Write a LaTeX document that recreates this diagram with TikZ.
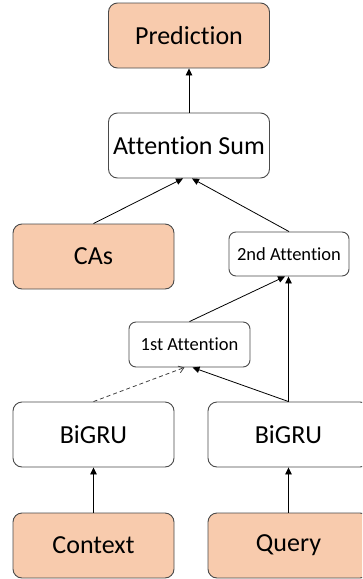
\documentclass[tikz,border=0pt]{standalone}
\usepackage{fontspec}
\setmainfont[Ligatures=NoCommon]{Carlito}
\usetikzlibrary{arrows.meta,calc}
\definecolor{peach}{HTML}{F8CBAD}
\definecolor{boxline}{HTML}{4A4A4A}
\tikzset{
  bigbox/.style={draw=boxline, line width=0.9pt, rounded corners=9pt,
    minimum width=161pt, minimum height=65pt, inner sep=0pt,
    font=\fontsize{26}{30}\selectfont},
  inbox/.style={bigbox, fill=peach},
  smallbox/.style={draw=boxline, line width=0.9pt, rounded corners=7pt,
    minimum width=120pt, minimum height=44pt, inner sep=0pt,
    font=\fontsize{18.5}{22}\selectfont},
  flow/.style={draw=black, line width=0.8pt, -{Triangle[length=7pt,width=6.5pt]}},
  guess/.style={draw=black!75, line width=0.8pt, dashed, dash pattern=on 4pt off 3pt,
    -{Straight Barb[length=5pt,width=7pt]}}
}
\begin{document}
\begin{tikzpicture}[x=1pt,y=-1pt]
\useasboundingbox (0,0) rectangle (362,579);
\clip (0,0) rectangle (362,579);

% model blocks
\node[inbox]    (pred) at (189,35.5)  {Prediction};
\node[bigbox]   (sum)  at (189,145.5) {Attention Sum};
\node[inbox]    (cas)  at (93.5,256.5) {CAs};
\node[smallbox] (att2) at (289,254)   {2nd Attention};
\node[smallbox, minimum width=121pt, minimum height=45pt] (att1) at (189.5,344.5) {1st Attention};
\node[bigbox]   (gruc) at (93.5,434.5) {BiGRU};
\node[bigbox]   (gruq) at (288.5,434.5) {BiGRU};
\node[inbox]    (ctx)  at (93.5,545.5) {Context};
\node[inbox]    (qry)  at (288.5,545.5) {Query};

% connections
\draw[flow] (sum.north) -- (pred.north |- pred.south);
\draw[flow] (cas.north) -- ($(sum.south)+(-6,0)$);
\draw[flow] (att2.north) -- ($(sum.south)+(3,0)$);
\draw[flow] (att1.north) -- ($(att2.south)+(-4,0)$);
\draw[flow] (gruq.north) -- (gruq.north |- att2.south);
\draw[flow] (gruq.north) -- ($(att1.south)+(3,0)$);
\draw[guess] (gruc.north) -- ($(att1.south)+(-5,0)$);
\draw[flow] (ctx.north) -- (gruc.south);
\draw[flow] (qry.north) -- (gruq.south);
\end{tikzpicture}
\end{document}
